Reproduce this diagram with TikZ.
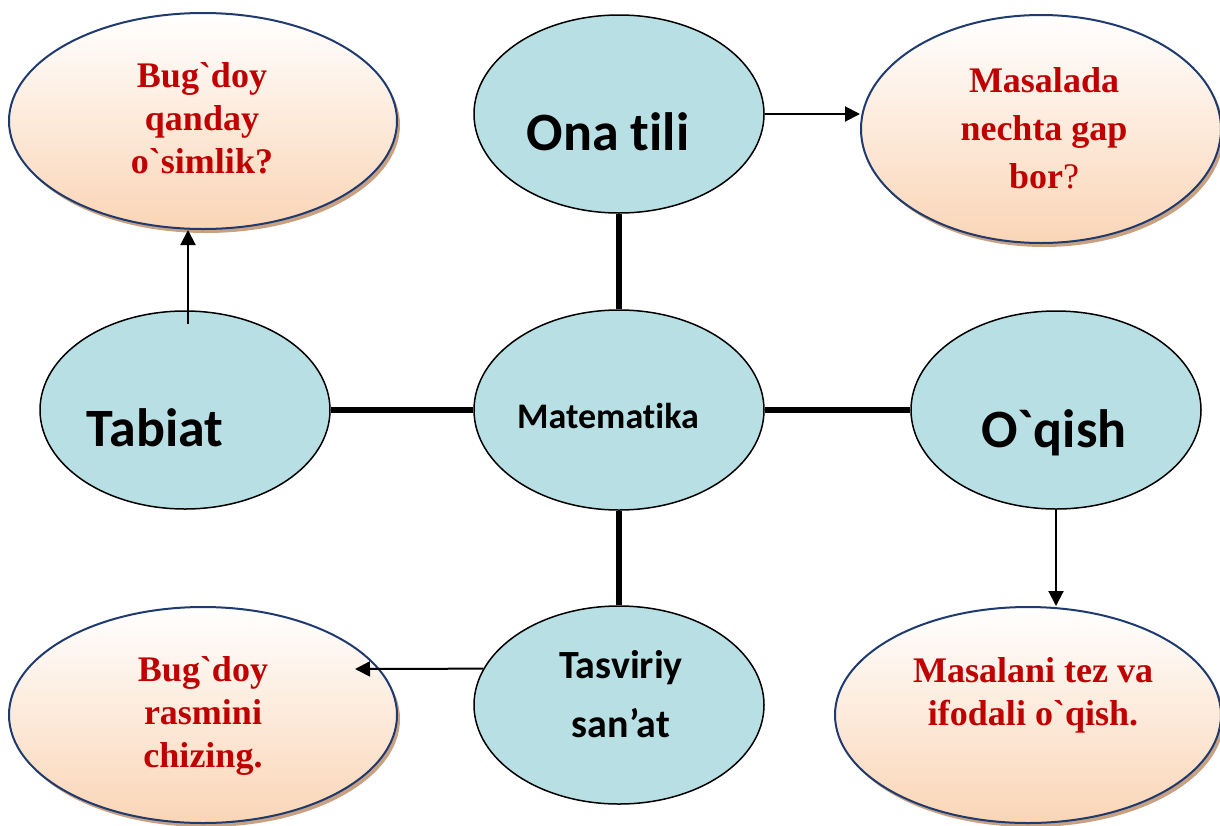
\documentclass[tikz,border=0pt]{standalone}
\usepackage{fontspec}
\usepackage{tikz}
\usetikzlibrary{arrows.meta,shapes.geometric,shadows}
\newfontfamily\calib{Carlito}[Ligatures={NoCommon}]
\newfontfamily\timesf{Liberation Serif}
\definecolor{tealfill}{HTML}{B8DFE3}
\definecolor{qred}{HTML}{C00000}
\definecolor{navy}{HTML}{1F3A6E}
\definecolor{peach}{HTML}{FAD5B6}
\definecolor{shadetan}{HTML}{C8A082}
\newcommand{\grv}{\textasciigrave}

\begin{document}
\begin{tikzpicture}[
  x=0.5pt, y=-0.5pt,
  subject/.style={ellipse, draw, fill=tealfill, line width=0.75pt, inner sep=0pt,
    minimum width=145pt, minimum height=99pt},
  question/.style={ellipse, draw=navy, line width=1pt, inner sep=0pt,
    top color=white, bottom color=peach,
    minimum width=194pt, minimum height=108pt,
    drop shadow={shadow xshift=1.5pt, shadow yshift=-2pt, fill=shadetan, opacity=1}},
  subj/.style={font=\calib\bfseries\fontsize{27pt}{32pt}\selectfont, anchor=base},
  qtext/.style={font=\timesf\bfseries\fontsize{18pt}{21.5pt}\selectfont, text=qred, align=center},
  link/.style={line width=3pt},
  arr/.style={->, line width=1pt},
  >={Triangle[length=7.5pt, width=7.5pt]}
]
\useasboundingbox (0,0) rectangle (1220,825);
\clip (0,0) rectangle (1220,825);

% question bubbles
\node[question] (plant) at (203,121) {};
\node[qtext] (plant-q) at (202,118) {Bug\grv doy\\qanday\\o\grv simlik?};
\node[question, minimum width=180pt, minimum height=114pt] (gaps) at (1041,129) {};
\node[qtext] (gaps-q) at (1044,128) {Masalada\\[2.5pt]nechta gap\\[2.5pt]bor{\mdseries?}};
\node[question] (sketch) at (203,715) {};
\node[qtext] (sketch-q) at (203,716) {Bug\grv doy\\rasmini\\chizing.};
\node[question, minimum width=193pt] (reading) at (1028,715) {};
\node[qtext] (reading-q) at (1033,695) {Masalani tez va\\ifodali o\grv qish.};

% subjects
\node[subject] (onatili) at (619,114) {};
\node[subj] (onatili-t) at (608,150) {Ona tili};
\node[subject] (tabiat) at (185,410) {};
\node[subj] (tabiat-t) at (155,446) {Tabiat};
\node[subject, minimum height=100pt] (matem) at (619,410) {};
\node[subj, font=\calib\bfseries\fontsize{18pt}{22pt}\selectfont] (matem-t) at (608,428) {Matematika};
\node[subject] (oqish) at (1056,410) {};
\node[subj] (oqish-t) at (1054,447) {O\grv qish};
\node[subject] (tasviriy) at (619,705) {};
\node[subj, anchor=center, align=center, font=\calib\bfseries\fontsize{20pt}{29.5pt}\selectfont]
  (tasviriy-t) at (621,694) {Tasviriy\\san’at};

% thick links to the centre
\draw[link] (onatili) -- (matem);
\draw[link] (tabiat) -- (matem);
\draw[link] (matem) -- (oqish);
\draw[link] (matem) -- (tasviriy);

% arrows to the questions
\coordinate (sketch-tip) at (355,669);
\draw[arr] ([xshift=1.5pt, yshift=-7pt]tabiat.north) -- ([xshift=1.5pt]tabiat.north |- plant.south);
\draw[arr] (onatili.east) -- (onatili.east -| gaps.west);
\draw[arr] (oqish.south) -- (oqish.south |- reading.north);
\draw[arr] (tasviriy.165) -- (sketch-tip);
\end{tikzpicture}
\end{document}
